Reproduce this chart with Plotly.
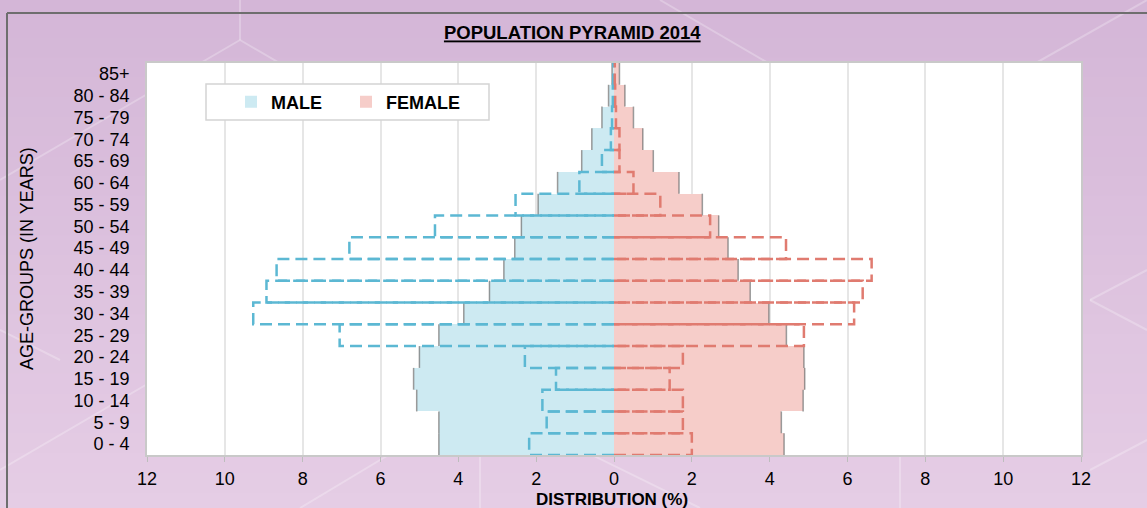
import plotly.graph_objects as go

# age groups, bottom to top
age_groups = ["0 - 4", "5 - 9", "10 - 14", "15 - 19", "20 - 24", "25 - 29",
              "30 - 34", "35 - 39", "40 - 44", "45 - 49", "50 - 54", "55 - 59",
              "60 - 64", "65 - 69", "70 - 74", "75 - 79", "80 - 84", "85+"]

# filled bars (2014), % of population
male_2014 = [4.50, 4.50, 5.07, 5.15, 5.00, 4.50, 3.86, 3.20, 2.83, 2.55,
             2.38, 1.95, 1.45, 0.83, 0.57, 0.31, 0.14, 0.05]
female_2014 = [4.37, 4.30, 4.86, 4.90, 4.88, 4.43, 3.98, 3.50, 3.19, 2.93,
               2.69, 2.27, 1.67, 1.01, 0.74, 0.50, 0.28, 0.14]

# dashed outline bars (comparison series)
male_dash = [2.18, 1.73, 1.84, 1.49, 2.29, 7.05, 9.27, 8.93, 8.67, 6.80,
             4.60, 2.53, 0.89, 0.31, 0.08, 0.05, 0.03, 0.02]
female_dash = [2.00, 1.77, 1.77, 1.43, 1.77, 4.88, 6.17, 6.39, 6.62, 4.42,
               2.47, 1.19, 0.50, 0.14, 0.14, 0.05, 0.03, 0.02]

x_ticks = [-12, -10, -8, -6, -4, -2, 0, 2, 4, 6, 8, 10, 12]

FONT = "Liberation Sans, Arial, Helvetica, sans-serif"
idx = list(range(len(age_groups)))


def outline(vals, sign):
    ''' open rectangle (0 -> value) for every age band '''
    xs, ys = [], []
    for i, v in enumerate(vals):
        xs += [0, sign * v, sign * v, 0, None]
        ys += [i - 0.5, i - 0.5, i + 0.5, i + 0.5, None]
    return xs, ys


def edges(vals, sign):
    ''' vertical outer edge of each filled bar '''
    xs, ys = [], []
    for i, v in enumerate(vals):
        xs += [sign * v, sign * v, None]
        ys += [i - 0.5, i + 0.5, None]
    return xs, ys


fig = go.Figure()

fig.add_trace(go.Bar(y=idx, x=[-v for v in male_2014], orientation="h", width=1,
                     name="<b>MALE</b>", marker=dict(color="#cdeaf2", line=dict(width=0)),
                     hoverinfo="skip"))
fig.add_trace(go.Bar(y=idx, x=female_2014, orientation="h", width=1,
                     name="<b>FEMALE</b>", marker=dict(color="#f6cdc9", line=dict(width=0)),
                     hoverinfo="skip"))

for vals, sign in [(male_2014, -1), (female_2014, 1)]:
    ex, ey = edges(vals, sign)
    fig.add_trace(go.Scatter(x=ex, y=ey, mode="lines", showlegend=False, hoverinfo="skip",
                             line=dict(color="rgba(120,120,120,0.75)", width=1.5)))

for vals, sign, col in [(male_dash, -1, "#5cb8d3"), (female_dash, 1, "#e07b70")]:
    ox, oy = outline(vals, sign)
    fig.add_trace(go.Scatter(x=ox, y=oy, mode="lines", showlegend=False, hoverinfo="skip",
                             line=dict(color=col, width=2.5, dash="12px,6px")))

# plot area geometry in px, used to place frame / legend box
L, T, W, H = 147, 63, 934, 392


def px(x):
    return (x - L) / W


def py(y):
    return (T + H - y) / H


shapes = []
# soft purple background gradient
top_c, bot_c = (212, 182, 215), (229, 205, 229)
n = 26
y_hi, y_lo = py(-2), py(512)
for k in range(n):
    t = k / (n - 1)
    c = tuple(int(round(a + (b - a) * t)) for a, b in zip(top_c, bot_c))
    shapes.append(dict(type="rect", xref="paper", yref="paper", layer="below",
                       x0=px(-2), x1=px(1150),
                       y0=y_hi - (y_hi - y_lo) * (k + 1) / n - 0.002,
                       y1=y_hi - (y_hi - y_lo) * k / n,
                       fillcolor="rgb(%d,%d,%d)" % c, line=dict(width=0)))
# faint hexagon-like lines
hex_lines = [(0, 180, 240, 40), (240, 40, 240, -5), (240, 40, 480, 180), (480, 180, 480, 508),
             (0, 470, 240, 330), (660, 0, 900, 140), (900, 140, 1147, 0), (900, 140, 900, 508),
             (1090, 300, 1147, 270), (1090, 300, 1147, 330), (0, 330, 60, 360), (300, 508, 480, 400),
             (480, 400, 700, 508), (1090, 470, 1147, 440)]
for x0, y0, x1, y1 in hex_lines:
    shapes.append(dict(type="line", xref="paper", yref="paper", layer="below",
                       x0=px(x0), y0=py(y0), x1=px(x1), y1=py(y1),
                       line=dict(color="rgba(255,255,255,0.25)", width=2)))
# white plot area
shapes.append(dict(type="rect", xref="paper", yref="paper", layer="below",
                   x0=0, x1=1, y0=0, y1=1, fillcolor="white", line=dict(width=0)))
# dark frame (top and left edges visible)
shapes.append(dict(type="line", xref="paper", yref="paper", x0=px(7), x1=px(1160),
                   y0=py(13), y1=py(13), line=dict(color="#6e6e6e", width=2)))
shapes.append(dict(type="line", xref="paper", yref="paper", x0=px(7), x1=px(7),
                   y0=py(13), y1=py(520), line=dict(color="#6e6e6e", width=2)))
# legend box
shapes.append(dict(type="rect", xref="paper", yref="paper", layer="above",
                   x0=px(206), x1=px(489), y0=py(120), y1=py(84),
                   fillcolor="white", line=dict(color="#d4d4d4", width=1.5)))

fig.update_layout(
    width=1147, height=508,
    margin=dict(l=L, r=1147 - L - W, t=T, b=508 - T - H),
    paper_bgcolor="#d8bcd9",
    plot_bgcolor="white",
    barmode="overlay",
    bargap=0,
    font=dict(family=FONT, color="black", size=18),
    title=dict(text="<u><b>POPULATION PYRAMID 2014</b></u>", x=px(613), xanchor="center",
               y=1 - 33 / 508, yanchor="middle", font=dict(size=18.5, color="black")),
    legend=dict(orientation="h", x=px(231), xanchor="left", y=py(102), yanchor="middle",
                bgcolor="rgba(0,0,0,0)", borderwidth=0, entrywidth=70,
                font=dict(size=18, color="black")),
    shapes=shapes,
    xaxis=dict(range=[-12, 12], tickvals=x_ticks, ticktext=[str(abs(v)) for v in x_ticks],
               showgrid=True, gridcolor="#e6e6e6", gridwidth=1.5,
               zeroline=True, zerolinecolor="#7f8f95", zerolinewidth=1.5,
               showline=True, linecolor="#c9c9c9", linewidth=1.5, mirror=True,
               ticks="outside", ticklen=5, tickcolor="#bdbdbd", ticklabelstandoff=2,
               tickfont=dict(size=18), fixedrange=True),
    yaxis=dict(range=[-0.5, len(age_groups) - 0.5], tickvals=idx, ticktext=age_groups,
               showgrid=False, zeroline=False, showline=True, linecolor="#c9c9c9",
               linewidth=1.5, mirror=True, ticks="", ticklabelstandoff=12,
               tickfont=dict(size=18), fixedrange=True),
    annotations=[
        dict(text="AGE-GROUPS (IN YEARS)", xref="paper", yref="paper", x=px(27), y=0.5,
             textangle=-90, showarrow=False, font=dict(size=18, color="black"),
             xanchor="center", yanchor="middle"),
        dict(text="<b>DISTRIBUTION (%)</b>", xref="paper", yref="paper", x=px(612), y=py(499),
             showarrow=False, font=dict(size=17, color="black"),
             xanchor="center", yanchor="middle"),
    ],
)

fig.write_html("out.html", config={"displayModeBar": False},
               post_script="document.body.style.margin='0';")
